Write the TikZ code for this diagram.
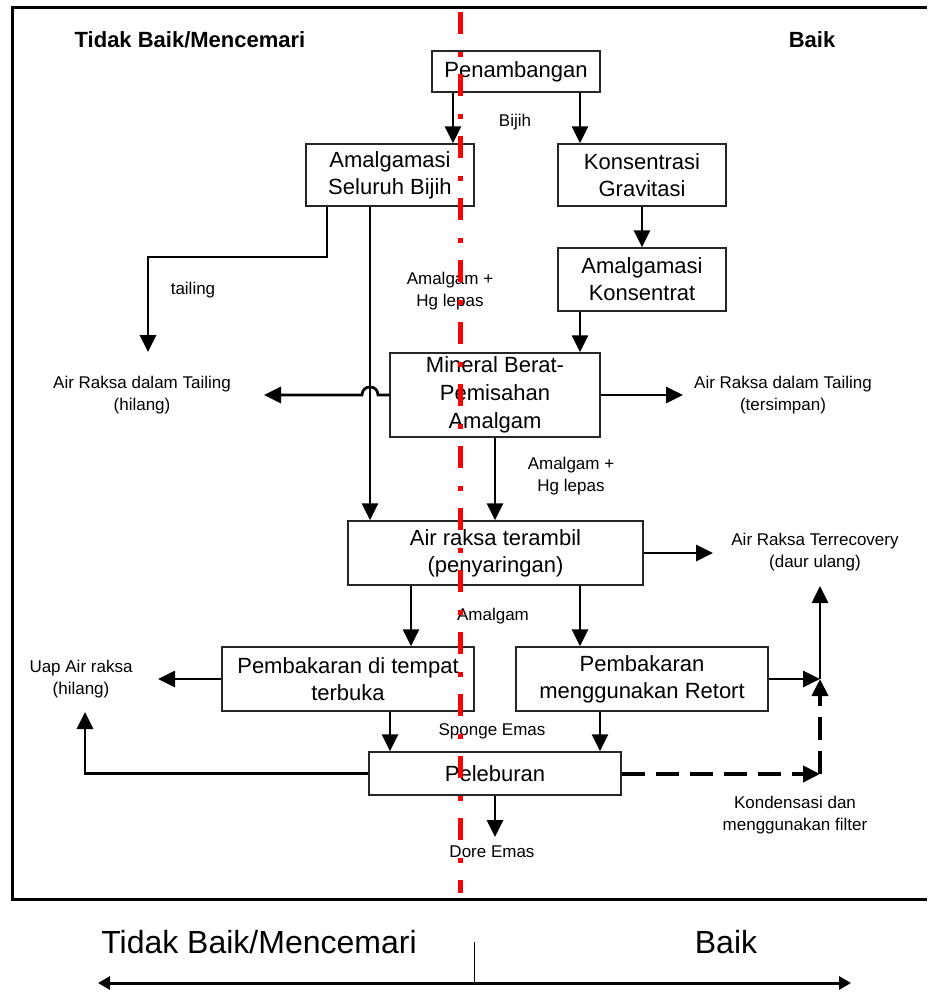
\documentclass[tikz,border=0pt]{standalone}
\usepackage{fontspec}
\setmainfont{Liberation Sans}
\usetikzlibrary{arrows.meta}
\begin{document}
\begin{tikzpicture}[x=1pt,y=-1pt,
  box/.style={draw=black!85, line width=1.3pt, fill=white, align=center, inner sep=0pt, font=\fontsize{22}{27}\selectfont},
  lbl/.style={align=center, inner sep=0pt, font=\fontsize{17}{22.5}\selectfont},
  head/.style={inner sep=0pt, font=\bfseries\fontsize{22}{26}\selectfont},
  big/.style={inner sep=0pt, font=\fontsize{32}{38}\selectfont},
  conn/.style={line width=2.7pt},
  arr/.style={conn, -{Triangle[length=17pt,width=16pt]}},
  dasharr/.style={line width=4pt, dash pattern=on 23pt off 11pt, -{Triangle[length=17pt,width=16pt]}},
  divline/.style={red, line width=5pt, dash pattern=on 22pt off 18pt on 5pt off 17pt},
]
\useasboundingbox (0,0) rectangle (927,992);
% frame
\draw[line width=3pt] (927,8) -- (12,8) -- (12,899) -- (927,899);

% headers
\node[head] (hl) at (190,40) {Tidak Baik/Mencemari};
\node[head] (hr) at (812,40) {Baik};

% boxes
\node[box, minimum width=168pt, minimum height=41pt] (pen) at (516,71.5) {Penambangan};
\node[box, minimum width=168pt, minimum height=62pt] (ab) at (390,175) {Amalgamasi\\Seluruh Bijih};
\node[box, minimum width=168pt, minimum height=62pt] (kg) at (642,175) {Konsentrasi\\Gravitasi};
\node[box, minimum width=168pt, minimum height=63pt] (ak) at (642,279.5) {Amalgamasi\\Konsentrat};
\node[box, minimum width=210pt, minimum height=84pt, font=\fontsize{22}{28}\selectfont] (mb) at (495,395) {Mineral Berat-\\Pemisahan\\Amalgam};
\node[box, minimum width=295pt, minimum height=64pt] (art) at (495.5,553) {Air raksa terambil\\(penyaringan)};
\node[box, minimum width=252pt, minimum height=64pt] (pbt) at (348,679) {Pembakaran di tempat\\terbuka};
\node[box, minimum width=252pt, minimum height=64pt] (rt) at (642,679) {Pembakaran\\menggunakan Retort};
\node[box, minimum width=252pt, minimum height=43pt] (pel) at (495,773.5) {Peleburan};

% labels
\node[lbl] (lbij) at (515,122) {Bijih};
\node[lbl] (ltail) at (193,290) {tailing};
\node[lbl] (lahg1) at (450,291) {Amalgam +\\Hg lepas};
\node[lbl] (lhil) at (142,395) {Air Raksa dalam Tailing\\(hilang)};
\node[lbl] (lters) at (783,395) {Air Raksa dalam Tailing\\(tersimpan)};
\node[lbl] (lahg2) at (571,476) {Amalgam +\\Hg lepas};
\node[lbl] (lrec) at (815,552) {Air Raksa Terrecovery\\(daur ulang)};
\node[lbl] (lam) at (493,616) {Amalgam};
\node[lbl] (luap) at (81,679) {Uap Air raksa\\(hilang)};
\node[lbl] (lsp) at (492,731) {Sponge Emas};
\node[lbl] (lkon) at (795,815) {Kondensasi dan\\menggunakan filter};
\node[lbl] (ldore) at (492,852) {Dore Emas};

% free ends
\coordinate (tailend) at (148,352);
\coordinate (hilend) at (264,395);
\coordinate (tersend) at (683,395);
\coordinate (recend) at (713,553);
\coordinate (junc) at (820,679);
\coordinate (recup) at (820,586);
\coordinate (dashend) at (820,774);
\coordinate (uapend) at (158,679);
\coordinate (uapup) at (85,712);
\coordinate (doreend) at (495,837);

% connectors
\draw[arr] ([xshift=-63pt]pen.south) -- ([xshift=63pt]ab.north);
\draw[arr] ([xshift=64pt]pen.south) -- ([xshift=-62pt]kg.north);
\draw[arr] (kg.south) -- (ak.north);
\draw[arr] ([xshift=-62pt]ak.south) -- ([xshift=85pt]mb.north);
\draw[arr] ([xshift=-63pt]ab.south) |- (148,257) -- (tailend);
\draw[arr] ([xshift=-20pt]ab.south) -- ([xshift=-125.5pt]art.north);
\draw[arr] (mb.west) -- (378,395) .. controls (378,384.3) and (362,384.3) .. (362,395) -- (hilend);
\draw[arr] (mb.east) -- (tersend);
\draw[arr] (mb.south) -- (mb.south |- art.north);
\draw[arr] (art.east) -- (recend);
\draw[arr] ([xshift=-84.5pt]art.south) -- ([xshift=63pt]pbt.north);
\draw[arr] ([xshift=84.5pt]art.south) -- ([xshift=-62pt]rt.north);
\draw[arr] (rt.east) -- (junc);
\draw[arr] (junc) -- (recup);
\draw[dasharr] (pel.east |- dashend) -- (dashend);
\draw[dasharr] (dashend) -- (junc);
\draw[arr] (pbt.west) -- (uapend);
\draw[arr] (pel.west) -| (uapup);
\draw[arr] ([xshift=42pt]pbt.south) -- ([xshift=-105pt]pel.north);
\draw[arr] ([xshift=-42pt]rt.south) -- ([xshift=105pt]pel.north);
\draw[arr] (pel.south) -- (doreend);

% divider
\draw[divline] (460,12) -- (460,893);

% bottom scale
\node[big] (bl) at (259,942) {Tidak Baik/Mencemari};
\node[big] (br) at (726,942) {Baik};
\coordinate (tickt) at (474,942);
\coordinate (ltip) at (98,983);
\coordinate (rtip) at (851,983);
\draw[line width=3pt, {Triangle[length=12pt,width=13pt]}-{Triangle[length=12pt,width=13pt]}] (ltip) -- (rtip);
\draw[line width=0.8pt] (tickt) -- (tickt |- ltip);
\end{tikzpicture}
\end{document}
